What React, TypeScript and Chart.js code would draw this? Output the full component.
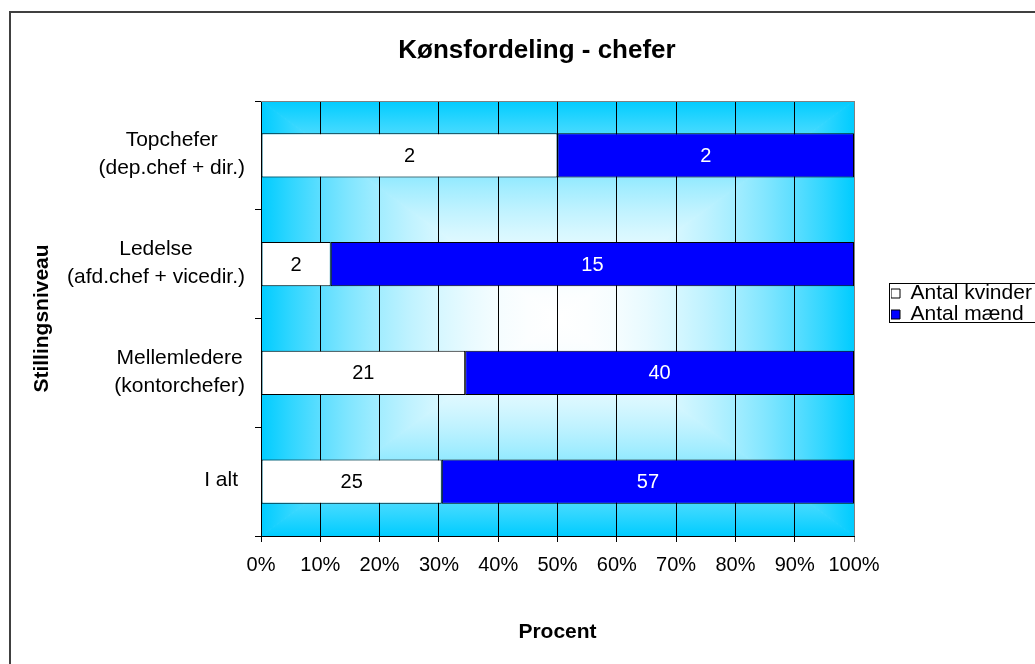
import React, { useEffect, useRef } from "react";
import { Chart, registerables } from "chart.js";

Chart.register(...registerables);

// ---------- data ----------
const CATEGORIES: string[][] = [
  ["Topchefer", "(dep.chef + dir.)"],
  ["Ledelse", "(afd.chef + vicedir.)"],
  ["Mellemledere", "(kontorchefer)"],
  ["I alt"],
];
const SERIES_NAMES = ["Antal kvinder", "Antal mænd"];
const WOMEN = [2, 2, 21, 25];
const MEN = [2, 15, 40, 57];
const SERIES_COLORS = ["#FFFFFF", "#0000FF"];
const LABEL_COLORS = ["#000000", "#FFFFFF"];
const TITLE = "Kønsfordeling - chefer";
const X_TITLE = "Procent";
const Y_TITLE = "Stillingsniveau";
const X_MIN = 0;
const X_MAX = 100;
const X_STEP = 10;

const FONT = '"Liberation Sans", Arial, Helvetica, sans-serif';
const EDGE_RGB = [0, 204, 255];

const totals = WOMEN.map((w, i) => w + MEN[i]);
const womenPct = WOMEN.map((w, i) => (w / totals[i]) * 100);
const menPct = MEN.map((m, i) => (m / totals[i]) * 100);
const COUNTS = [WOMEN, MEN];

const mix = (t: number) => {
  const k = t * t;
  const r = Math.round(255 + (EDGE_RGB[0] - 255) * k);
  const g = Math.round(255 + (EDGE_RGB[1] - 255) * k);
  const b = Math.round(255 + (EDGE_RGB[2] - 255) * k);
  return `rgb(${r},${g},${b})`;
};

const backgroundPlugin = {
  id: "bgFrame",
  beforeDraw(chart: any) {
    const ctx = chart.ctx;
    ctx.save();
    ctx.fillStyle = "#FFFFFF";
    ctx.fillRect(0, 0, chart.width, chart.height);
    // outer frame
    ctx.strokeStyle = "#404040";
    ctx.lineWidth = 2;
    ctx.strokeRect(10, 12, 2000, 2000);
    // rectangular "from center" gradient
    const { left, top, right, bottom } = chart.chartArea;
    const cx = (left + right) / 2;
    const cy = (top + bottom) / 2;
    const tri = (x1: number, y1: number, x2: number, y2: number, gx: number, gy: number) => {
      const g = ctx.createLinearGradient(cx, cy, gx, gy);
      for (let s = 0; s <= 10; s++) g.addColorStop(s / 10, mix(s / 10));
      ctx.beginPath();
      ctx.moveTo(cx, cy);
      ctx.lineTo(x1, y1);
      ctx.lineTo(x2, y2);
      ctx.closePath();
      ctx.fillStyle = g;
      ctx.strokeStyle = g;
      ctx.lineWidth = 1;
      ctx.fill();
      ctx.stroke();
    };
    ctx.save();
    ctx.beginPath();
    ctx.rect(left, top, right - left, bottom - top);
    ctx.clip();
    tri(left, top, right, top, cx, top);
    tri(right, top, right, bottom, right, cy);
    tri(right, bottom, left, bottom, cx, bottom);
    tri(left, bottom, left, top, left, cy);
    ctx.restore();
    ctx.restore();
  },
  beforeDatasetsDraw(chart: any) {
    const ctx = chart.ctx;
    const { left, top, right } = chart.chartArea;
    ctx.save();
    ctx.strokeStyle = "#808080";
    ctx.lineWidth = 1;
    ctx.beginPath();
    ctx.moveTo(left, top + 0.5);
    ctx.lineTo(right, top + 0.5);
    ctx.stroke();
    ctx.restore();
  },
  afterLayout(chart: any) {
    const t = chart.titleBlock;
    if (t) {
      const h = t.height;
      t.left = 9;
      t.right = 1065;
      t.width = 1056;
      t.top = 51 - h / 2;
      t.bottom = t.top + h;
    }
    const lg = chart.legend;
    if (lg) {
      const w = lg.width;
      lg.left = 891;
      lg.top = 283;
      lg.right = 891 + w;
      lg.bottom = 283 + 200;
      lg.height = 200;
    }
  },
  afterDraw(chart: any) {
    const ctx = chart.ctx;
    // legend frame
    const lg = chart.legend;
    if (lg) {
      ctx.save();
      ctx.strokeStyle = "#000000";
      ctx.lineWidth = 1;
      ctx.strokeRect(889.5, 283.5, 400, 39);
      ctx.restore();
    }
    // category labels (centered lines, right-aligned block)
    const yScale = chart.scales.y;
    ctx.save();
    ctx.font = `21px ${FONT}`;
    ctx.fillStyle = "#000000";
    ctx.textAlign = "center";
    ctx.textBaseline = "middle";
    const lineH = 28;
    CATEGORIES.forEach((lines, i) => {
      const y = yScale.getPixelForTick(i);
      const blockW = Math.max(...lines.map((l) => ctx.measureText(l).width));
      const right = lines.length === 1 ? 238 : 245;
      const cx = right - blockW / 2;
      lines.forEach((l, k) => {
        ctx.fillText(l, cx, y - ((lines.length - 1) * lineH) / 2 + k * lineH - 1);
      });
    });
    ctx.restore();
  },
  afterDatasetsDraw(chart: any) {
    const ctx = chart.ctx;
    ctx.save();
    ctx.font = `20px ${FONT}`;
    ctx.textAlign = "center";
    ctx.textBaseline = "middle";
    chart.data.datasets.forEach((ds: any, di: number) => {
      const meta = chart.getDatasetMeta(di);
      ctx.fillStyle = LABEL_COLORS[di];
      meta.data.forEach((bar: any, i: number) => {
        const x = (bar.x + bar.base) / 2;
        ctx.fillText(String(COUNTS[di][i]), x, bar.y + 1);
      });
    });
    ctx.restore();
  },
};

export default function App() {
  const ref = useRef<HTMLCanvasElement>(null);
  useEffect(() => {
    const canvas = ref.current;
    if (!canvas) return;
    const chart = new Chart(canvas, {
      type: "bar",
      data: {
        labels: CATEGORIES,
        datasets: [
          {
            label: SERIES_NAMES[0],
            data: womenPct,
            backgroundColor: SERIES_COLORS[0],
            borderColor: "#000000",
            borderWidth: 1,
            borderSkipped: false,
            barPercentage: 0.405,
            categoryPercentage: 1,
          },
          {
            label: SERIES_NAMES[1],
            data: menPct,
            backgroundColor: SERIES_COLORS[1],
            borderColor: "#000000",
            borderWidth: 1,
            borderSkipped: false,
            barPercentage: 0.405,
            categoryPercentage: 1,
          },
        ],
      },
      options: {
        indexAxis: "y",
        responsive: false,
        animation: false,
        devicePixelRatio: 1,
        font: { family: FONT },
        layout: { padding: { left: 12, right: 1100 - 854, top: 101 - 31.2, bottom: 16 } },
        scales: {
          x: {
            stacked: true,
            min: X_MIN,
            max: X_MAX,
            ticks: {
              stepSize: X_STEP,
              color: "#000000",
              font: { family: FONT, size: 20 },
              padding: 11,
              callback: (v: any) => `${v}%`,
            },
            grid: {
              color: (c: any) => (c.tick && c.tick.value === 100 ? "#808080" : "#000000"),
              lineWidth: 1,
              tickLength: 6,
              drawOnChartArea: true,
            },
            border: { display: true, color: "#000000", width: 1 },
            title: {
              display: true,
              text: X_TITLE,
              color: "#000000",
              font: { family: FONT, size: 21, weight: "bold" },
              padding: { top: 0, bottom: 3 },
            },
            afterFit: (s: any) => {
              s.height = 112;
            },
          },
          y: {
            stacked: true,
            ticks: { display: false },
            grid: {
              offset: true,
              drawOnChartArea: false,
              color: "#000000",
              tickLength: 6,
            },
            border: { display: true, color: "#000000", width: 1 },
            title: {
              display: true,
              text: Y_TITLE,
              color: "#000000",
              font: { family: FONT, size: 21, weight: "bold" },
              padding: { top: 18, bottom: 0 },
            },
            afterFit: (s: any) => {
              s.width = 261 - 12;
            },
          },
        },
        plugins: {
          title: {
            display: true,
            text: TITLE,
            color: "#000000",
            font: { family: FONT, size: 26, weight: "bold" },
            padding: 0,
          },
          legend: {
            display: true,
            position: "chartArea",
            align: "start",
            labels: {
              boxWidth: 9,
              boxHeight: 9,
              padding: 0,
              color: "#000000",
              font: { family: FONT, size: 21 },
            },
          },
          tooltip: { enabled: false },
        },
      } as any,
      plugins: [backgroundPlugin],
    });
    return () => chart.destroy();
  }, []);
  return (
    <div
      style={{
        position: "absolute",
        left: 0,
        top: 0,
        width: 1035,
        height: 664,
        overflow: "hidden",
        background: "#FFFFFF",
      }}
    >
      <canvas ref={ref} width={1100} height={664} style={{ display: "block", width: 1100, height: 664 }} />
    </div>
  );
}
